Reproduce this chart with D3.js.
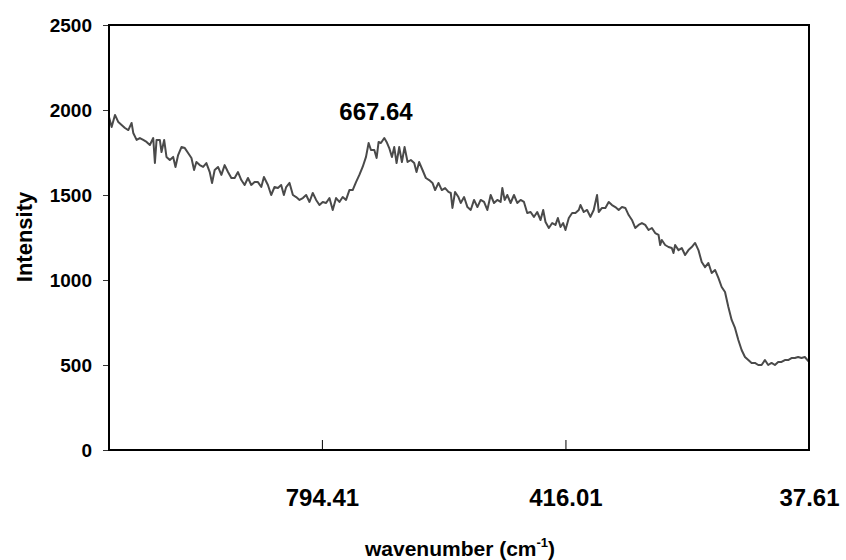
<!DOCTYPE html>
<html>
<head>
<meta charset="utf-8">
<script src="https://cdn.jsdelivr.net/npm/d3@7"></script>
<style>
  html, body { margin: 0; padding: 0; background: #fff; }
  svg { display: block; font-family: "Liberation Sans", Arial, sans-serif; font-weight: bold; }
</style>
</head>
<body>
<svg id="chart" width="846" height="560"></svg>
<script>
// ---- data ----
const wavenumbers = [
  1125.2,1121.1,1115.9,1110.7,1105.6,1100.4,1095.2,1090.1,1087.5,1082.3,1077.2,1072.0,1066.8,1061.7,1056.5,1053.9,1051.3,1046.2,1043.6,1039.5,
  1035.9,1030.7,1025.5,1021.9,1017.8,1012.6,1007.4,1002.3,997.1,993.0,989.4,984.2,979.0,973.9,968.7,965.1,961.0,955.8,950.6,945.5,
  940.3,935.1,930.0,924.8,919.6,914.5,909.3,904.1,899.0,893.8,888.6,884.5,878.3,873.2,868.0,862.8,857.7,853.5,
  849.9,844.7,839.5,834.4,829.2,824.0,818.9,813.7,808.6,803.4,798.2,793.1,787.9,782.7,777.6,772.4,767.2,762.1,756.9,751.7,
  746.6,741.4,736.2,731.1,725.9,721.8,718.2,713.0,709.4,706.3,702.7,697.5,693.9,689.8,685.6,682.0,678.4,674.3,670.1,666.0,
  661.3,656.2,651.0,647.4,643.3,638.1,632.9,627.8,622.6,618.5,613.3,608.1,603.0,597.8,594.2,591.6,587.5,582.3,
  578.7,573.5,568.3,563.2,558.0,552.8,547.7,542.5,537.4,532.2,527.0,521.9,516.7,514.1,510.5,506.4,501.2,496.0,490.9,485.7,
  480.5,475.4,470.2,465.0,459.9,454.7,450.6,447.0,441.8,436.6,431.5,427.8,423.7,419.6,416.0,410.8,405.6,400.5,395.3,392.7,
  387.6,382.4,377.2,372.1,366.9,364.3,359.2,354.0,348.8,343.7,338.5,333.3,328.2,323.0,317.8,312.7,
  307.6,302.4,297.2,292.1,286.9,281.7,276.6,271.4,268.8,266.3,261.1,255.9,250.8,248.2,245.6,240.4,235.3,230.1,224.9,219.8,
  214.6,209.4,204.3,199.1,193.9,188.8,183.6,178.4,173.3,168.1,162.9,157.8,152.6,147.4,142.3,137.1,131.9,126.8,121.6,116.5,
  111.3,106.1,101.0,95.8,90.6,85.5,80.3,75.1,70.0,64.8,59.6,54.5,49.3,44.1,37.61
];
const intensity = [
  1959,1900,1971,1929,1912,1894,1882,1924,1865,1824,1835,1824,1812,1794,1835,1688,1824,1824,1753,1824,
  1724,1706,1724,1665,1735,1782,1776,1747,1718,1647,1694,1676,1665,1688,1635,1571,1647,1665,1618,1676,
  1635,1600,1600,1635,1588,1559,1600,1559,1576,1576,1547,1606,1559,1500,1547,1541,1559,1500,
  1547,1571,1500,1488,1471,1482,1500,1459,1512,1471,1441,1459,1453,1482,1412,1482,1459,1488,1471,1529,
  1529,1576,1618,1665,1724,1806,1765,1765,1718,1812,1806,1835,1812,1776,1724,1782,1688,1782,1694,1782,
  1694,1706,1688,1635,1694,1647,1600,1588,1571,1529,1571,1529,1541,1518,1512,1424,1518,1488,
  1453,1488,1429,1412,1471,1429,1471,1459,1412,1500,1453,1471,1459,1541,1471,1500,1453,1500,1453,1471,
  1459,1394,1400,1371,1400,1353,1412,1341,1306,1335,1324,1365,1312,1335,1294,1365,1394,1394,1412,1441,
  1400,1412,1371,1412,1500,1400,1424,1424,1459,1441,1429,1412,1429,1424,1382,1353,
  1306,1324,1335,1324,1294,1306,1276,1265,1206,1235,1206,1194,1188,1159,1206,1176,1188,1147,1176,1194,
  1218,1176,1106,1076,1100,1041,1059,1012,959,929,841,765,718,647,588,547,529,512,512,500,
  500,529,500,512,500,518,518,529,529,541,541,547,541,547,518
];
const yTicks = [0, 500, 1000, 1500, 2000, 2500];
const xTicks = [794.41, 416.01, 37.61];
const peakLabel = "667.64";
const xDomain = [1125.2, 37.61];

// ---- layout ----
const svg = d3.select("#chart");
const plotLeft = 109, plotRight = 809, plotTop = 25, plotBottom = 450;

const x = d3.scaleLinear().domain(xDomain).range([plotLeft, plotRight]);
const y = d3.scaleLinear().domain([0, 2500]).range([plotBottom, plotTop]);

const data = wavenumbers.map((w, i) => ({ w, v: intensity[i] }));

// line
const line = d3.line().x(d => x(d.w)).y(d => y(d.v));
svg.append("path")
  .datum(data)
  .attr("d", line)
  .attr("fill", "none")
  .attr("stroke", "#4a4a4a")
  .attr("stroke-width", 2)
  .attr("stroke-linejoin", "round");

// y axis
const yAxis = svg.append("g")
  .attr("transform", `translate(${plotLeft},0)`)
  .call(d3.axisLeft(y).tickValues(yTicks).tickSize(6).tickPadding(11).tickFormat(d3.format("d")));
yAxis.select(".domain").remove();
yAxis.selectAll("line").attr("stroke", "#333");
yAxis.selectAll("text")
  .attr("font-size", 19)
  .attr("font-family", '"Liberation Sans", Arial, sans-serif')
  .attr("font-weight", "bold")
  .attr("fill", "#000");

// x axis
const xAxis = svg.append("g")
  .attr("transform", `translate(0,${plotBottom})`)
  .call(d3.axisBottom(x).tickValues(xTicks).tickSize(-10).tickPadding(39).tickFormat(d => d.toFixed(2)));
xAxis.select(".domain").remove();
xAxis.selectAll("line").attr("stroke", "#000");
xAxis.selectAll("text")
  .attr("font-size", 24)
  .attr("font-family", '"Liberation Sans", Arial, sans-serif')
  .attr("font-weight", "bold")
  .attr("fill", "#000");

// frame
svg.append("rect")
  .attr("x", plotLeft).attr("y", plotTop)
  .attr("width", plotRight - plotLeft).attr("height", plotBottom - plotTop)
  .attr("fill", "none")
  .attr("stroke", "#000")
  .attr("stroke-width", 2);

// peak annotation
svg.append("text")
  .attr("x", 376).attr("y", 120)
  .attr("text-anchor", "middle")
  .attr("font-size", 24)
  .attr("fill", "#000")
  .text(peakLabel);

// axis titles
const xt = svg.append("text")
  .attr("x", 460).attr("y", 556)
  .attr("text-anchor", "middle")
  .attr("font-size", 21)
  .attr("fill", "#000");
xt.append("tspan").text("wavenumber (cm");
xt.append("tspan").attr("font-size", 13).attr("dy", -9).text("-1");
xt.append("tspan").attr("dy", 9).text(")");

svg.append("text")
  .attr("transform", "translate(32,237) rotate(-90)")
  .attr("text-anchor", "middle")
  .attr("font-size", 22)
  .attr("fill", "#000")
  .text("Intensity");
</script>
</body>
</html>
